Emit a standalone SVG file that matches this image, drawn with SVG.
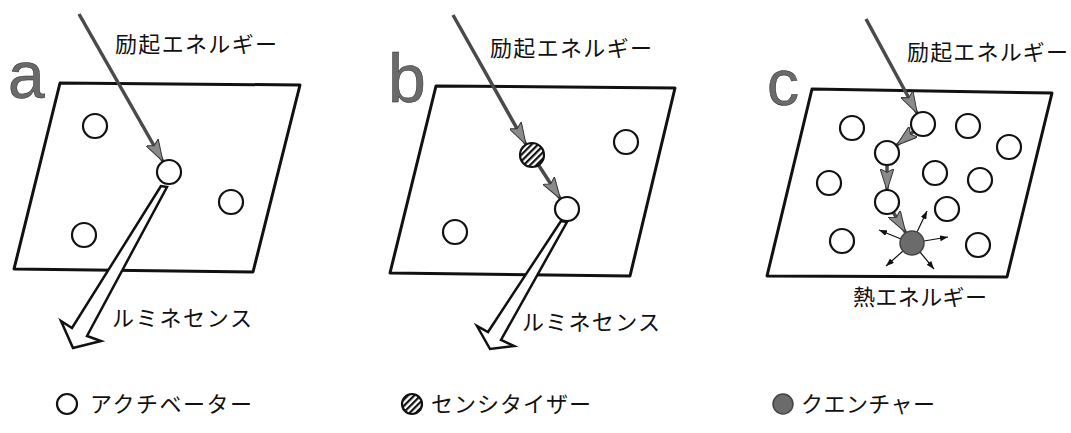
<svg xmlns="http://www.w3.org/2000/svg" width="1071" height="433" viewBox="0 0 1071 433">
<defs>
<style>
.plate{fill:none;stroke:#111;stroke-width:3;stroke-linejoin:round}
.act{fill:#fff;stroke:#111;stroke-width:2.2}
.sens{fill:url(#hatch);stroke:#111;stroke-width:2.2}
.quen{fill:#6b6b6b;stroke:#444;stroke-width:1.5}
.exc{stroke:#4a4a4a;stroke-width:3.5;fill:none;marker-end:url(#gh)}
.heat{stroke:#111;stroke-width:1.2;fill:none;marker-end:url(#sh)}
.lum{fill:#fff;stroke:#111;stroke-width:2.5;stroke-linejoin:miter}
.lbl{font-family:"Noto Sans CJK JP","Noto Sans",sans-serif;font-size:22px;fill:#111}
.leg{font-family:"Noto Sans CJK JP","Noto Sans",sans-serif;font-size:22px;fill:#111}
.big{font-family:"Liberation Sans",Arial,sans-serif;fill:#6a6a6a;stroke:#2a2a2a;stroke-width:0.5}
</style>
<pattern id="hatch" patternUnits="userSpaceOnUse" width="4.5" height="4.5" patternTransform="rotate(-45)">
<rect width="4.5" height="4.5" fill="#fff"/>
<rect width="4.5" height="2.2" fill="#111"/>
</pattern>
<marker id="gh" viewBox="0 0 22 14" markerWidth="22" markerHeight="14" refX="22" refY="7" orient="auto" markerUnits="userSpaceOnUse">
<path d="M0,0 L22,7 L0,14 L4,7 Z" fill="#8a8a8a" stroke="#333" stroke-width="1"/>
</marker>
<marker id="sh" viewBox="0 0 8 6" markerWidth="8" markerHeight="6" refX="8" refY="3" orient="auto" markerUnits="userSpaceOnUse">
<path d="M0,0 L8,3 L0,6 Z" fill="#111"/>
</marker>
</defs>

<g id="panel-a">
<text class="big" x="8" y="98" font-size="66">a</text>
<polygon class="plate" points="60,83 300,85 253,272 14,269"/>
<text class="lbl" x="115" y="52" textLength="162">励起エネルギー</text>
<text class="lbl" x="112" y="326" textLength="140">ルミネセンス</text>
</g>
<g id="panel-b">
<text class="big" x="388" y="102" font-size="68">b</text>
<polygon class="plate" points="436,86 675,88 630,276 390,273"/>
<text class="lbl" x="490" y="56" textLength="162">励起エネルギー</text>
<text class="lbl" x="522" y="330" textLength="138">ルミネセンス</text>
</g>
<g id="panel-c">
<text class="big" x="767" y="105" font-size="64">c</text>
<polygon class="plate" points="812,89 1052,93 1007,277 767,276"/>
<text class="lbl" x="907" y="60" textLength="161">励起エネルギー</text>
<text class="lbl" x="853" y="305" textLength="134">熱エネルギー</text>
</g>

<g id="connectors">
<line class="exc" x1="79" y1="14" x2="163" y2="161.5"/>
<polygon class="lum" points="161,186 72,328 61,321 73,348 101,341 87,336 167,187"/>
<line class="exc" x1="453" y1="15" x2="526" y2="144.5"/>
<line class="exc" x1="538.5" y1="165" x2="560.5" y2="199"/>
<polygon class="lum" points="561,221 488,332 477,326 490,349 514,346 501,340 567,222"/>
<line class="exc" x1="866" y1="19" x2="917.3" y2="113.5"/>
<line class="exc" x1="913.6" y1="131.5" x2="896.4" y2="145.5"/>
<line class="exc" x1="887" y1="165" x2="887" y2="190.5"/>
<line class="exc" x1="893.3" y1="212.3" x2="905.7" y2="232.7"/>
<line class="heat" x1="901" y1="239" x2="879" y2="230"/>
<line class="heat" x1="917" y1="232" x2="927" y2="211"/>
<line class="heat" x1="924" y1="241" x2="948" y2="237"/>
<line class="heat" x1="903" y1="251" x2="886" y2="266"/>
<line class="heat" x1="920" y1="252" x2="934" y2="269"/>
</g>

<g id="molecules-a">
<circle id="a-act1" class="act" cx="95" cy="126" r="12"/>
<circle id="a-act2" class="act" cx="169" cy="172" r="12"/>
<circle id="a-act3" class="act" cx="231" cy="202" r="12"/>
<circle id="a-act4" class="act" cx="84" cy="235" r="12"/>
</g>
<g id="molecules-b">
<circle id="b-sens" class="sens" cx="532" cy="155" r="12"/>
<circle id="b-act1" class="act" cx="567" cy="209" r="12"/>
<circle id="b-act2" class="act" cx="626" cy="142" r="12"/>
<circle id="b-act3" class="act" cx="455" cy="232" r="12"/>
</g>
<g id="molecules-c">
<circle class="act" cx="923" cy="124" r="12"/>
<circle class="act" cx="852" cy="128" r="12"/>
<circle class="act" cx="968" cy="126" r="12"/>
<circle class="act" cx="1009" cy="147" r="12"/>
<circle class="act" cx="887" cy="153" r="12"/>
<circle class="act" cx="935" cy="173" r="12"/>
<circle class="act" cx="980" cy="180" r="12"/>
<circle class="act" cx="829" cy="183" r="12"/>
<circle class="act" cx="887" cy="202" r="12"/>
<circle class="act" cx="947" cy="209" r="12"/>
<circle class="act" cx="842" cy="241" r="12"/>
<circle class="act" cx="978" cy="245" r="12"/>
<circle id="c-quencher" class="quen" cx="912" cy="243" r="12"/>
</g>

<g id="legend-activator">
<circle class="act" cx="67" cy="404" r="10"/>
<text class="leg" x="90" y="412" textLength="162">アクチベーター</text>
</g>
<g id="legend-sensitizer">
<circle class="sens" cx="412" cy="404" r="10"/>
<text class="leg" x="431" y="412" textLength="160">センシタイザー</text>
</g>
<g id="legend-quencher">
<circle class="quen" cx="783" cy="404" r="10"/>
<text class="leg" x="801" y="412" textLength="134">クエンチャー</text>
</g>
</svg>
